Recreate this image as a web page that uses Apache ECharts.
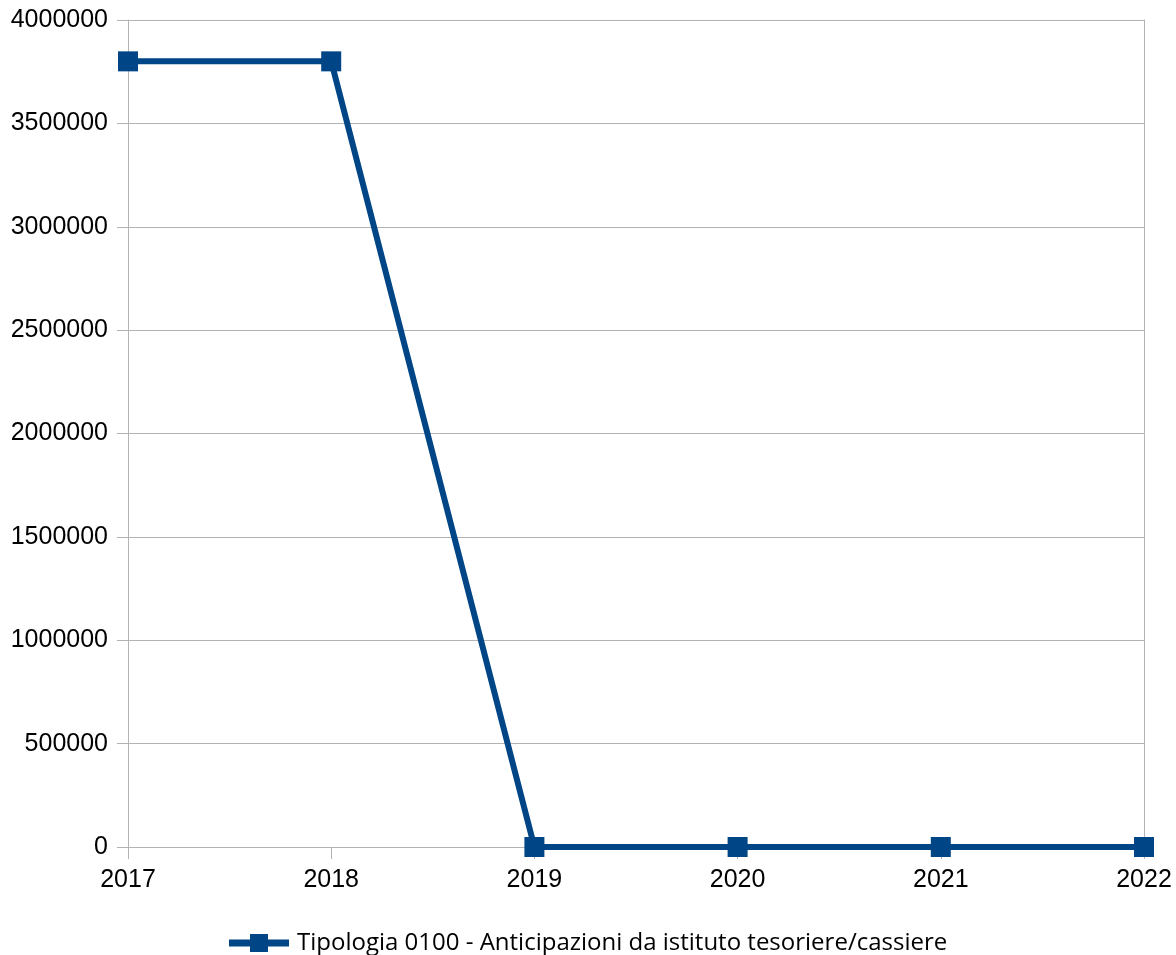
<!DOCTYPE html>
<html><head><meta charset="utf-8">
<script src="https://cdn.jsdelivr.net/npm/echarts@6/dist/echarts.min.js"></script>
<style>html,body{margin:0;padding:0;background:#fff}#c{width:1176px;height:955px}</style>
</head><body><div id="c"></div>
<script>
const categories = ['2017','2018','2019','2020','2021','2022'];
const values = [3800000, 3800000, 0, 0, 0, 0];
const seriesName = 'Tipologia 0100 - Anticipazioni da istituto tesoriere/cassiere';
const chart = echarts.init(document.getElementById('c'));
chart.setOption({
  animation: false,
  grid: {left: 128, right: 32, top: 20, bottom: 108},
  legend: {
    top: 926, left: 224, itemWidth: 60, itemHeight: 18, itemGap: 6,
    textStyle: {fontFamily: 'Open Sans', fontSize: 24, color: '#000', padding: [0,0,0,3]},
    data: [{name: seriesName, icon: 'path://M0,5.5H21V0H39V5.5H60V12.5H39V18H21V12.5H0Z'}]
  },
  xAxis: {
    type: 'category', data: categories, boundaryGap: false,
    axisLine: {lineStyle: {color: '#b3b3b3', width: 1}},
    axisTick: {show: true, length: 12, lineStyle: {color: '#b3b3b3'}},
    axisLabel: {fontFamily: 'Liberation Sans', fontSize: 25, color: '#000', margin: 21},
    splitLine: {show: false}
  },
  yAxis: [{
    type: 'value', min: 0, max: 4000000, interval: 500000,
    axisLine: {show: true, lineStyle: {color: '#b3b3b3'}},
    axisTick: {show: true, length: 11, lineStyle: {color: '#b3b3b3'}},
    axisLabel: {fontFamily: 'Liberation Sans', fontSize: 25, color: '#000', margin: 20, formatter: v => String(v)},
    splitLine: {show: true, lineStyle: {color: '#b3b3b3', width: 1}}
  }, {
    type: 'value', min: 0, max: 4000000, interval: 500000, position: 'right',
    axisLine: {show: true, lineStyle: {color: '#b3b3b3'}},
    axisTick: {show: false}, axisLabel: {show: false}, splitLine: {show: false}
  }],
  series: [{
    name: seriesName, type: 'line', data: values,
    symbol: 'rect', symbolSize: 20,
    lineStyle: {color: '#004586', width: 6},
    itemStyle: {color: '#004586'}
  }]
});
</script></body></html>
